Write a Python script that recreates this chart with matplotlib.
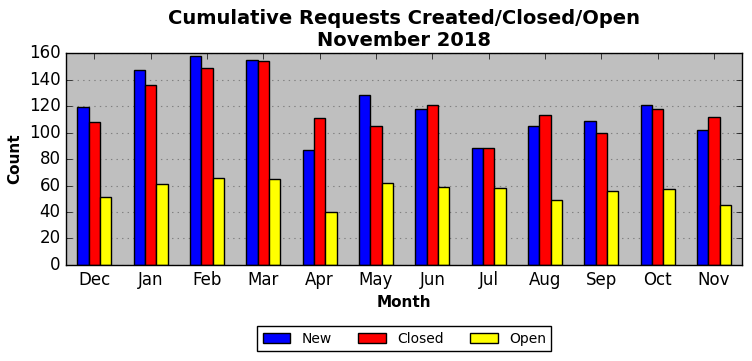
import matplotlib
matplotlib.use("Agg")
import matplotlib.pyplot as plt
import numpy as np

months = ["Dec", "Jan", "Feb", "Mar", "Apr", "May", "Jun", "Jul", "Aug", "Sep", "Oct", "Nov"]
new = [119, 147, 158, 155, 87, 128, 118, 88, 105, 109, 121, 102]
closed = [108, 136, 149, 154, 111, 105, 121, 88, 113, 100, 118, 112]
opened = [51, 61, 66, 65, 40, 62, 59, 58, 49, 56, 57, 45]

plt.style.use("classic")
fig, ax = plt.subplots(figsize=(7.52, 3.61), dpi=100)
fig.patch.set_facecolor("white")

x = np.arange(len(months))
w = 0.2
ax.bar(x - w, new, w, align="center", color="blue", edgecolor="black", label="New")
ax.bar(x, closed, w, align="center", color="red", edgecolor="black", label="Closed")
ax.bar(x + w, opened, w, align="center", color="yellow", edgecolor="black", label="Open")

ax.set_facecolor("#bfbfbf")
ax.set_axisbelow(True)
ax.yaxis.grid(True, color="#808080", linestyle=":", linewidth=0.8)
ax.set_xlim(-0.5, len(months) - 0.5)
ax.set_ylim(0, 160)
ax.set_xticks(x)
ax.set_xticklabels(months)
ax.tick_params(labelsize=12)
ax.set_xlabel("Month", fontsize=11, fontweight="bold")
ax.set_ylabel("Count", fontsize=11, fontweight="bold")
ax.set_title("Cumulative Requests Created/Closed/Open\nNovember 2018", fontsize=14, fontweight="bold")

ax.legend(loc="upper center", bbox_to_anchor=(0.5, -0.255), ncol=3, fontsize=10,
          handlelength=2.0, handleheight=0.7, columnspacing=1.9)

fig.subplots_adjust(left=0.088, right=0.987, top=0.853, bottom=0.266)
fig.savefig("out.png", dpi=100, facecolor="white")
